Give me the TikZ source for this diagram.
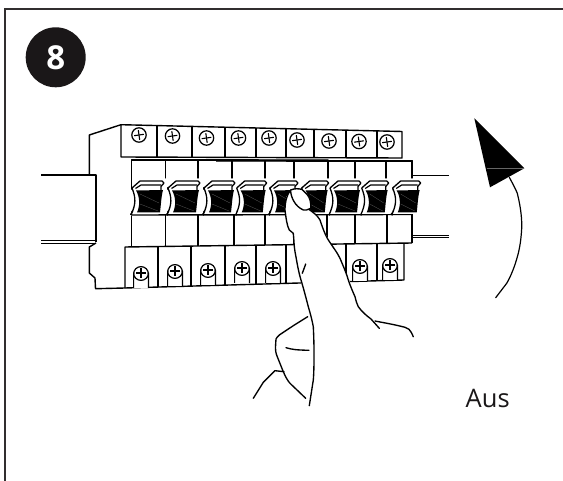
\documentclass[tikz,border=0pt]{standalone}
\usepackage{fontspec}
\setmainfont{Open Sans}
\definecolor{ink}{HTML}{1A1718}
\tikzset{
  ln/.style={draw=black,line width=1.4pt,line join=round},
  hand/.style={draw=black,line width=1.35pt,line join=round,line cap=round},
  frameln/.style={draw=ink!90!white,line width=2.8pt},
}
% top screw
\newcommand{\tscrew}[2]{%
  \draw[ln,line width=1.25pt] (#1,#2) circle (7.2);
  \draw[ln,line width=1.1pt] (#1-4.8,#2+.7) -- (#1+4.8,#2-.7) (#1-.7,#2-4.8) -- (#1+.7,#2+4.8);
}
% bottom screw with u-shape
\newcommand{\bscrew}[2]{%
  \draw[ln,line width=1.2pt,fill=white] (#1-7.4,#2+15) -- (#1-7.4,#2) arc[start angle=180,end angle=0,radius=7.4] -- (#1+7.4,#2+15);
  \draw[ln,line width=1.2pt] (#1-7.4,#2+1) arc[start angle=180,end angle=360,radius=7.4];
  \draw[ln,line width=1.1pt] (#1-4.8,#2) -- (#1+4.8,#2) (#1,#2-4.8) -- (#1,#2+4.8);
}
% toggle: left of black, width of black
\newcommand{\toggle}[2]{%
  \fill[white] (#1-7,179) -- (#1+#2+3,179) -- (#1+#2+1,214) -- (#1-7,214) -- cycle;
  \fill[black] (#1-3,190.5) -- (#1+#2-1,190) .. controls (#1+#2-3,198) and (#1+#2-3,205) .. (#1+#2-4,212.5) -- (#1-2,212.5) .. controls (#1+1,206) and (#1+1,197) .. (#1-3,190.5) -- cycle;
  \draw[white!35!black,line width=.3pt] (#1+1,194) -- (#1+#2-5,203) (#1+1,204) -- (#1+#2-6,211);
  \draw[ln,line width=1.3pt] (#1-7,188) -- (#1+1,181) -- (#1+#2-2,181) -- (#1+#2,183) -- (#1+#2-3,186.5) -- (#1+#2-3,190);
  \draw[ln,line width=1.2pt] (#1-3.5,188.5) -- (#1+2,185) -- (#1+#2-3,185);
  \draw[ln,line width=1.3pt] (#1-7,188) .. controls (#1-3,198) and (#1-3,204) .. (#1-8,215);
}
\begin{document}
\begin{tikzpicture}[x=1pt,y=-1pt]
\useasboundingbox (0,0) rectangle (563,481);
\fill[white] (0,0) rectangle (563,481);
% frame
\draw[frameln] (5,481) -- (5,9) -- (563,9);
% step badge
\node[circle,fill=ink,minimum size=60pt,inner sep=0pt,text=white,font=\fontsize{33}{33}\selectfont\bfseries] (badge) at (55.7,57.3) {8};
% rails
\draw[ln] (41,175) -- (96,175) -- (96,242);
\draw[ln,line width=1pt] (41,241) -- (96,241) (41,243.2) -- (96,243.2);
\draw[ln] (412,175.5) -- (449,175.5);
\draw[ln,line width=1pt] (412,235.6) -- (449,235.6) (412,238) -- (449,238);
% body outline
\draw[ln] (121,124.7) -- (89.3,135) -- (89.3,175);
\draw[ln] (96,243) -- (89.3,247) -- (89.3,273) -- (95,278) -- (95.5,288.7) -- (125,288);
% top terminal row
\draw[ln] (121,124.7) -- (402,131.5) -- (402,158) -- (121,157) -- cycle;
\foreach \x/\a/\b in {157/126/157,192/126/157,225/127/157,256/128/157,286/128/157,314/129/158,346/130/158,377/131/158}
  \draw[ln] (\x,\a) -- (\x,\b);
\foreach \x/\y in {139/135,172.5/136,206.5/138,238.5/138,269/138,297/140,329/141,359/141.5,387/142}
  \tscrew{\x}{\y}
% housing
\draw[ln] (131.5,160) -- (412,161) -- (412,243);
\draw[ln] (131.5,160) -- (131.5,188);
\draw[ln] (131.5,216) -- (131.5,247);
\foreach \x in {165.7,198,232,265,294,328,355,386}
  \draw[ln] (\x,160.5) -- (\x,186);
\foreach \x/\b in {165.7/247,198/246.5,234/246,265/245.5,294/245.5,327/245,355/244.5,387/244}
  \draw[ln] (\x,215) -- (\x,\b);
\draw[ln] (131.5,215) -- (412,214.5);
% bottom terminal row
\draw[ln] (125,288) -- (125,247) -- (412,243);
\draw[ln] (125,288) -- (404,280) -- (404,244);
\foreach \x/\a/\b in {158/246.5/287,191/246/286,225/246/285.5,256/245.5/284.5,286/245/284,317/245/283,346/244.5/282,377/244/281}
  \draw[ln] (\x,\a) -- (\x,\b);
\foreach \x/\y in {141/273,175/271,208/270,242/268,273/268,360/266,390/265}
  \bscrew{\x}{\y}
% toggles
\foreach \x/\w in {139/25,175/25,211/24,243.7/23,277/21,308.7/20,337/24,368.7/20,399.7/21}
  \toggle{\x}{\w}
% finger
\fill[white] (291.7,190) -- (286.7,196.7) -- (285,210) -- (289.3,230) -- (293.3,233.3) -- (295,251.7) -- (301,280) -- (308.3,306.7) -- (313.3,326.7) -- (314,353) -- (313.3,380) -- (370,330) -- (358.3,306.7) -- (355,296.7) -- (348.3,280) -- (340,258.3) -- (327.3,238.3) -- (320,220) -- (308.3,208.3) -- cycle;
\draw[hand] (290.7,190) .. controls (287,194) and (285,202) .. (285,210) .. controls (286,218) and (287,226) .. (289.3,230) -- (293.3,233.3) .. controls (294,240) and (294,246) .. (295,251.7) .. controls (297,262) and (298,270) .. (301,280) .. controls (304,290) and (306,298) .. (308.3,306.7) .. controls (311,316) and (312,320) .. (313.3,326.7) .. controls (314,340) and (314,350) .. (314,353) .. controls (314,362) and (314,372) .. (313.3,380) -- (309.3,405.7);
\draw[hand] (308.3,209) .. controls (314,213) and (317,215) .. (320,220) .. controls (322,226) and (324,232) .. (327.3,238.3) .. controls (332,246) and (337,252) .. (340,258.3) .. controls (344,268) and (346,272) .. (348.3,280) .. controls (351,288) and (353,292) .. (355,296.7) .. controls (356,301) and (357,304) .. (358.3,306.7) .. controls (362,312) and (367,316) .. (371,319) -- (379.3,328.3);
\draw[hand,fill=white] (290.7,190) .. controls (294,188.5) and (298,188.5) .. (301.7,189.3) .. controls (306,193) and (309,196) .. (310,200) .. controls (311,203) and (311,206) .. (310.7,208.3) .. controls (308,210) and (305,210.5) .. (303.3,210) .. controls (299,208) and (296,205) .. (294,201.5) .. controls (292,198) and (290.5,194) .. (290.7,190) -- cycle;
\draw[hand] (375,321) .. controls (385,323) and (392,324) .. (405,327.3) .. controls (408,328) and (410,329) .. (413.3,336.7);
\draw[hand] (302.3,273.3) -- (305.7,264);
\draw[hand] (307.7,316.7) -- (293.3,325.7) -- (279.3,335) .. controls (276,338) and (275,340) .. (275.7,343.3) .. controls (275,350) and (276,354) .. (277.3,356.7) -- (283.3,371.7) .. controls (286,378) and (288,381) .. (290,383.3) -- (305.7,398.3);
\draw[hand] (286,347.7) .. controls (292,349.5) and (296,350) .. (309,350.3);
\draw[hand] (253.3,398.3) -- (263.3,382.3) -- (275,370.7) -- (284,371.7);
% turn arrow
\fill[black] (474.3,118.3) -- (524.3,168.3) -- (490,187.3) -- cycle;
\draw[white!40!black,line width=.4pt] (486.7,168.3) -- (524.3,168.3);
\draw[hand,line width=1.2pt] (509.3,177.3) .. controls (514,186) and (516,190) .. (517.3,193.3) .. controls (521,208) and (522,220) .. (521.7,228.3) .. controls (521,240) and (520,246) .. (518.3,253.3) .. controls (515,266) and (511,276) .. (506.7,283.3) -- (495.7,297.7);
% label
\node[anchor=base west,inner sep=0pt,font=\fontsize{25.5}{25.5}\selectfont,text=ink] (aus) at (465.5,408) {Aus};
\end{tikzpicture}
\end{document}
